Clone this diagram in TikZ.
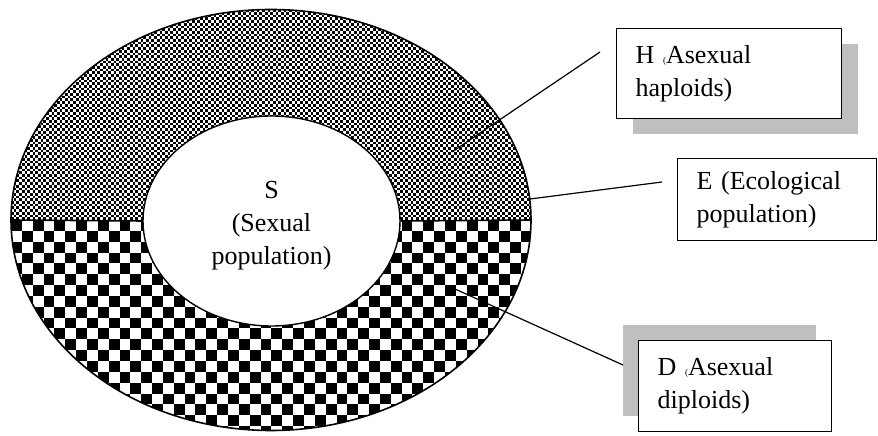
\documentclass[tikz,border=0pt]{standalone}
\usepackage{fontspec}
\setmainfont{Liberation Serif}
\usetikzlibrary{shapes,shadows,calc,positioning}

\newcommand{\smallparen}{{\fontsize{9}{9}\selectfont(}}

\begin{document}
\begin{tikzpicture}[x=1pt,y=1pt,
    txt/.style={font=\fontsize{26}{33}\selectfont},
    callout/.style={draw, line width=1.2pt, fill=white, anchor=north west, inner xsep=19pt, align=left, txt},
    pointer/.style={line width=1.2pt},
    checkrow/.style={line width=#1, dash pattern=on #1 off #1}]
  \useasboundingbox (0,0) rectangle (878,436);
  \coordinate (ringW) at (11,216);
  \coordinate (ringE) at (531,216);
  % upper half of the ring: fine check (haploids)
  \begin{scope}
    \clip (ringW) arc[start angle=180, end angle=0, x radius=260, y radius=210.5] -- cycle;
    \foreach \j in {0,...,79} {
      \pgfmathsetmacro\ph{mod(\j,2)*2.7}
      \draw[checkrow=2.7pt, dash phase={\ph pt}] (11,{217.35+2.7*\j}) -- (540,{217.35+2.7*\j});
    }
  \end{scope}
  % lower half of the ring: coarse check (diploids)
  \begin{scope}
    \clip (ringW) arc[start angle=180, end angle=360, x radius=260, y radius=210.5] -- cycle;
    \foreach \j in {0,...,19} {
      \pgfmathsetmacro\ph{mod(\j,2)*10.85}
      \draw[checkrow=10.85pt, dash phase={\ph pt}] (11,{210.575-10.85*\j}) -- (540,{210.575-10.85*\j});
    }
  \end{scope}
  \draw[line width=1.6pt] (271,216) ellipse[x radius=260, y radius=210.5];
  % sexual population in the middle
  \node[ellipse, draw, line width=1.4pt, fill=white, minimum width=257pt, minimum height=210pt] (S) at (271.5,215) {};
  \node[txt, align=center] (Slabel) at ([yshift=-5pt]S.center) {S\\(Sexual\\population)};
  \draw[line width=1.6pt] (ringW) -- (S.west) (S.east) -- (ringE);
  % labels
  \node[callout, text width=187pt, minimum height=90pt,
        drop shadow={shadow xshift=16pt, shadow yshift=-15pt, fill=gray!50, opacity=1}] (H) at (616,408) {H \smallparen Asexual\\haploids)};
  \node[callout, text width=161pt, minimum height=82pt] (E) at (677,278) {E (Ecological\\population)};
  \node[callout, text width=155pt, minimum height=91pt,
        drop shadow={shadow xshift=-16pt, shadow yshift=16pt, fill=gray!50, opacity=1}] (D) at (638,96) {D \smallparen Asexual\\diploids)};
  % pointers
  \coordinate (hTip) at (452,284);
  \coordinate (hEnd) at (600,384);
  \coordinate (eTip) at (530,237);
  \coordinate (eEnd) at (662,254);
  \coordinate (dTip) at (455,147);
  \coordinate (dEnd) at (623,71);
  \draw[pointer] (hTip) -- (hEnd);
  \draw[pointer] (eTip) -- (eEnd);
  \draw[pointer] (dTip) -- (dEnd);
\end{tikzpicture}
\end{document}
